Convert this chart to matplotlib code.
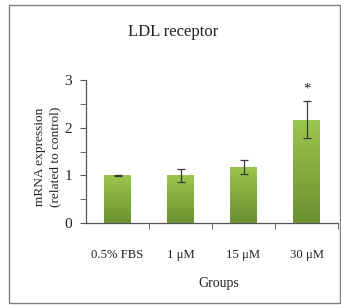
import numpy as np
import matplotlib.pyplot as plt
from matplotlib.patches import Rectangle
from matplotlib.ticker import MultipleLocator, FixedLocator

# LDL receptor mRNA expression
groups = ['0.5% FBS', '1 μM', '15 μM', '30 μM']
values = [1.0, 1.0, 1.18, 2.17]
errors = [0.005, 0.14, 0.15, 0.38]
marks = ['', '', '', '*']

plt.rcParams['font.family'] = ['Liberation Serif', 'DejaVu Serif']

fig = plt.figure(figsize=(3.41, 3.05), dpi=100)
fig.patch.set_facecolor('white')
fig.patches.append(Rectangle((9 / 341, 2 / 305), 331 / 341, 298 / 305, transform=fig.transFigure,
                             fill=False, edgecolor='#808080', linewidth=1.0))

ax = fig.add_axes([86 / 341, 1 - 223 / 305, 252 / 341, 143 / 305])
x = np.arange(len(groups))
bars = ax.bar(x, values, width=0.42, color='#86b03c', zorder=2)

# vertical gradient inside each bar
grad = np.linspace(0, 1, 256).reshape(-1, 1)
cmap = plt.matplotlib.colors.LinearSegmentedColormap.from_list('g', ['#6a9032', '#9cc74c'])
for b in bars:
    im = ax.imshow(grad, cmap=cmap, origin='lower', aspect='auto', zorder=3,
                   extent=[b.get_x(), b.get_x() + b.get_width(), 0, b.get_height()])
    im.set_clip_path(b)

ax.errorbar(x, values, yerr=errors, fmt='none', ecolor='#3a3a3a', elinewidth=0.9,
            capsize=3, capthick=0.9, zorder=4)
for xi, v, e, m in zip(x, values, errors, marks):
    if m:
        ax.text(xi, v + e + 0.12, m, ha='center', va='bottom', fontsize=10.5, color='#222222')

ax.set_xlim(-0.5, 3.5)
ax.set_ylim(0, 3)
ax.yaxis.set_major_locator(MultipleLocator(1))
ax.yaxis.set_minor_locator(MultipleLocator(0.5))
ax.set_xticks(x)
ax.set_xticklabels(groups, fontsize=9.2)
ax.xaxis.set_minor_locator(FixedLocator([0.5, 1.5, 2.5, 3.5]))
ax.tick_params(axis='x', which='major', length=0, pad=19, colors='#222222')
ax.tick_params(axis='x', which='minor', length=4, direction='out', color='#555555')
ax.tick_params(axis='y', which='both', length=4, direction='out', color='#555555',
               labelsize=11, pad=6, labelcolor='#222222')
for s in ['top', 'right']:
    ax.spines[s].set_visible(False)
for s in ['left', 'bottom']:
    ax.spines[s].set_color('#555555')
    ax.spines[s].set_linewidth(0.9)

fig.text(173 / 341, 1 - 32 / 305, 'LDL receptor', ha='center', va='center', fontsize=12, color='#222222')
fig.text(219 / 341, 1 - 284 / 305, 'Groups', ha='center', va='center', fontsize=10, color='#222222')
fig.text(48 / 341, 1 - 157 / 305, 'mRNA expression\n(related to control)', ha='center', va='center',
         rotation=90, fontsize=9.6, color='#222222', linespacing=1.35)

plt.savefig('out.png', dpi=100)
